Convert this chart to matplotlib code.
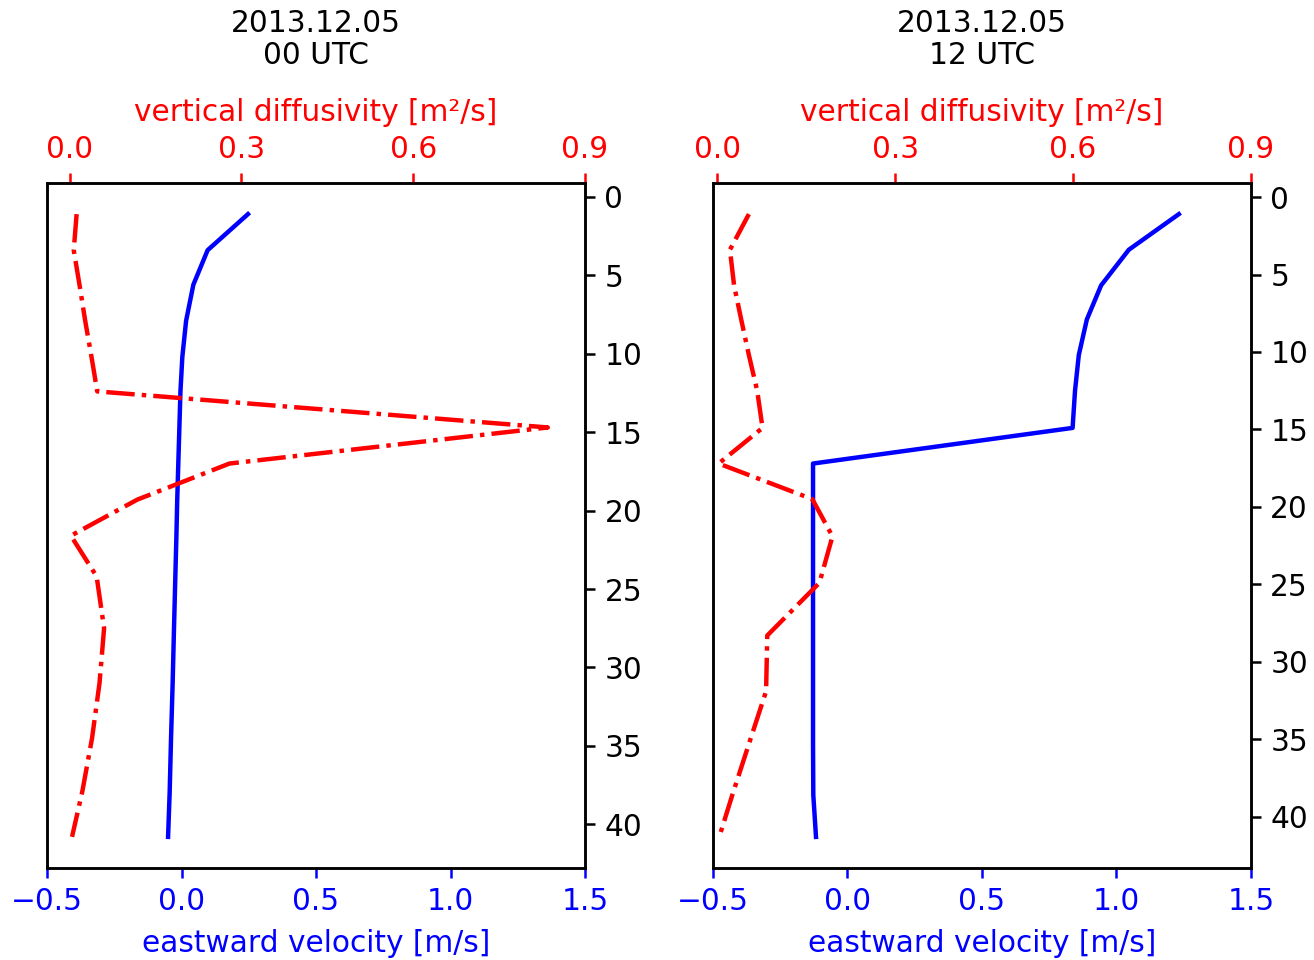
import numpy as np
import matplotlib
matplotlib.use("Agg")
import matplotlib.pyplot as plt

# depth of model levels [m]
depth_00 = [1.1, 3.4, 5.6, 7.9, 10.2, 12.4, 14.7, 17.0, 19.3, 21.6, 24.2, 27.5, 31.0, 34.5, 37.9, 40.8]
depth_12 = [1.1, 3.4, 5.7, 7.9, 10.2, 12.5, 14.9, 17.2, 19.5, 21.9, 24.9, 28.3, 31.9, 35.3, 38.6, 41.3]

# eastward velocity [m/s]
u_00 = [0.247, 0.097, 0.044, 0.017, 0.003, -0.004, -0.008, -0.012, -0.016, -0.019, -0.023, -0.028, -0.033, -0.039, -0.044, -0.050]
u_12 = [1.232, 1.046, 0.943, 0.890, 0.860, 0.846, 0.837, -0.128, -0.128, -0.128, -0.128, -0.128, -0.128, -0.128, -0.127, -0.117]

# vertical diffusivity [m2/s]
kz_00 = [0.012, 0.007, 0.017, 0.027, 0.038, 0.048, 0.835, 0.279, 0.118, 0.002, 0.047, 0.060, 0.052, 0.039, 0.022, 0.004]
kz_12 = [0.053, 0.021, 0.028, 0.040, 0.053, 0.067, 0.076, 0.002, 0.160, 0.194, 0.172, 0.084, 0.082, 0.053, 0.025, 0.003]

titles = ["2013.12.05\n00 UTC", "2013.12.05\n12 UTC"]
u_ticks = [-0.5, 0.0, 0.5, 1.0, 1.5]
kz_ticks = [0.0, 0.3, 0.6, 0.9]

plt.rcParams['font.size'] = 21.3
plt.rcParams['axes.linewidth'] = 1.8

fig = plt.figure(figsize=(13.14, 9.6), dpi=100)
lefts = [0.0358, 0.5426]
panels = [(depth_00, u_00, kz_00), (depth_12, u_12, kz_12)]

for i in range(2):
    dep, u, kz = panels[i]
    ax = fig.add_axes([lefts[i], 0.0958, 0.4094, 0.7136])
    ax.plot(u, dep, color='b', lw=3.2)
    ax.set_xlim(-0.5, 1.5)
    ax.set_xticks(u_ticks)
    ax.set_xlabel("eastward velocity [m/s]", color='b', labelpad=9)
    ax.tick_params(axis='x', colors='b', labelcolor='b', length=7, width=1.8, pad=7)
    ax.yaxis.tick_right()
    ax.tick_params(axis='y', length=7, width=1.8, pad=7)

    ax2 = ax.twiny()
    ax2.plot(kz, dep, color='r', lw=3.2, ls='-.')
    ax2.set_xlim(right=0.9)
    ax2.set_xticks(kz_ticks)
    ax2.set_xlabel("vertical diffusivity [m²/s]", color='r', labelpad=10)
    ax2.tick_params(axis='x', colors='r', labelcolor='r', length=7, width=1.8, pad=7)
    ax.invert_yaxis()
    ax2.set_title(titles[i], pad=24, linespacing=1.15, fontsize=21.3)

fig.savefig("out.png", dpi=100)
